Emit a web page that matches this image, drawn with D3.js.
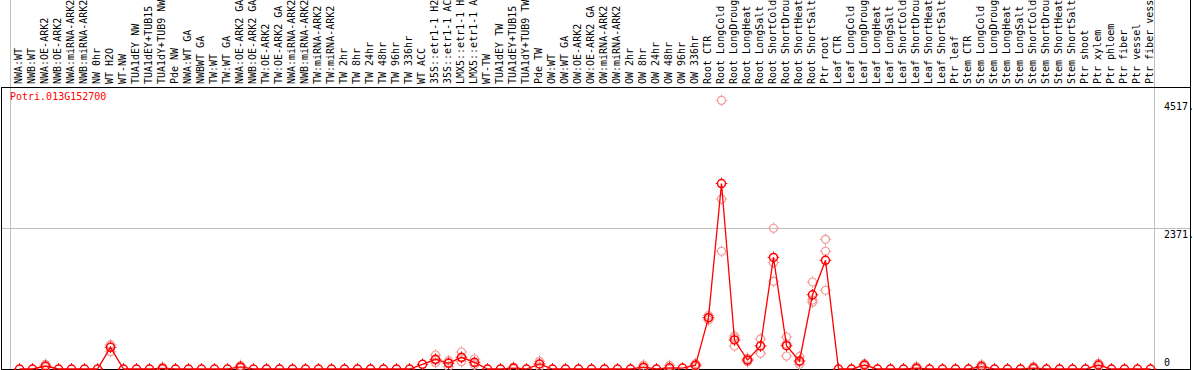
<!DOCTYPE html>
<html>
<head>
<meta charset="utf-8">
<script src="https://cdn.jsdelivr.net/npm/d3@7"></script>
<style>
  body { margin: 0; background: #fff; }
  svg { display: block; }
  text { font-family: "DejaVu Sans Mono", monospace; font-size: 10px; }
</style>
</head>
<body>
<div id="chart"></div>
<script>
const geneId = 'Potri.013G152700';

const labels = [
  'NWA:WT', 'NWB:WT', 'NWA:OE-ARK2', 'NWB:OE-ARK2', 'NWA:miRNA-ARK2', 'NWB:miRNA-ARK2', 'NW 0hr', 'WT H2O', 'WT-NW',
  'TUA1dEY NW', 'TUA1dEY+TUB15', 'TUA1dY+TUB9 NW', 'Pde NW',
  'NWA:WT GA', 'NWBWT GA', 'TW:WT', 'TW:WT GA', 'NWA:OE-ARK2 GA', 'NWB:OE-ARK2 GA', 'TW:OE-ARK2', 'TW:OE-ARK2 GA',
  'NWA:miRNA-ARK2', 'NWB:miRNA-ARK2', 'TW:miRNA-ARK2', 'TW:miRNA-ARK2', 'TW 2hr', 'TW 8hr', 'TW 24hr', 'TW 48hr',
  'TW 96hr', 'TW 336hr', 'WT ACC', '35S::etr1-1 H2O', '35S::etr1-1 ACC', 'LMX5::etr1-1 H2O', 'LMX5::etr1-1 ACC',
  'WT-TW', 'TUA1dEY TW', 'TUA1dEY+TUB15', 'TUA1dY+TUB9 TW', 'Pde TW',
  'OW:WT', 'OW:WT GA', 'OW:OE-ARK2', 'OW:OE-ARK2 GA', 'OW:miRNA-ARK2', 'OW:miRNA-ARK2', 'OW 2hr', 'OW 8hr',
  'OW 24hr', 'OW 48hr', 'OW 96hr', 'OW 336hr',
  'Root CTR', 'Root LongCold', 'Root LongDrought', 'Root LongHeat', 'Root LongSalt', 'Root ShortCold',
  'Root ShortDrought', 'Root ShortHeat', 'Root ShortSalt', 'Ptr root',
  'Leaf CTR', 'Leaf LongCold', 'Leaf LongDrought', 'Leaf LongHeat', 'Leaf LongSalt', 'Leaf ShortCold',
  'Leaf ShortDrought', 'Leaf ShortHeat', 'Leaf ShortSalt', 'Ptr leaf',
  'Stem CTR', 'Stem LongCold', 'Stem LongDrought', 'Stem LongHeat', 'Stem LongSalt', 'Stem ShortCold',
  'Stem ShortDrought', 'Stem ShortHeat', 'Stem ShortSalt', 'Ptr shoot', 'Ptr xylem',
  'Ptr phloem', 'Ptr fiber', 'Ptr vessel', 'Ptr fiber vessel'
];

// mean expression per sample
const values = [
  0, 0, 50, 0, 0, 0, 0, 365, 0, 0, 0, 10, 0,
  0, 0, 0, 0, 35, 0, 0, 0, 0, 0, 0, 0, 0, 0, 0, 0, 0, 0, 79, 163, 96, 197, 112, 0, 0, 15, 0, 84,
  0, 0, 0, 0, 0, 0, 0, 30, 0, 20, 15, 65,
  863, 3119, 488, 151, 387, 1877, 392, 135, 1248, 1828,
  0, 0, 67, 0, 0, 0, 13, 0, 0, 0,
  0, 40, 0, 0, 0, 15, 0, 0, 0, 0, 67,
  0, 0, 0, 0
];

// replicate values (pale markers), by sample index
const repIndex = [2, 7, 11, 17, 32, 33, 34, 35, 38, 40, 48, 50, 52,
  53, 54, 55, 56, 57, 58, 59, 60, 61, 62, 65, 69, 74, 78, 83];
const repValues = [
  [80, 40, 30], [404, 400, 291], [30, 0, 0], [60, 30, 15], [235, 148, 106], [140, 109, 39], [286, 183, 123],
  [168, 100, 68], [30, 15, 0], [129, 84, 40], [67, 20, 5], [60, 0, 0], [90, 65, 40],
  [900, 863, 826], [4517, 2859, 1980], [555, 522, 387], [180, 151, 122], [505, 392, 264], [2367, 1788, 1475],
  [538, 419, 219], [207, 119, 79], [1463, 1122, 1160], [2181, 1980, 1324],
  [90, 67, 44], [40, 0, 0], [70, 40, 10], [40, 5, 0], [96, 67, 38]
];

const groupSizes = [13, 28, 12, 10, 10, 11, 1, 1, 1, 1];

const tickValues = [0, 2371, 4517];
const tickLabels = ['0', '2371.', '4517.'];
const yMax = 4742;

const width = 1194, height = 370;
const plot = { left: 1, right: 1190, top: 87, bottom: 369 };

const svg = d3.select('#chart')
  .append('svg')
  .attr('width', width)
  .attr('height', height);

const x = d3.scaleBand()
  .domain(d3.range(labels.length))
  .range([10, 10 + 13 * labels.length]);

const px = i => x(i) + 9.5;

const y = d3.scaleLinear()
  .domain([0, yMax])
  .range([plot.bottom, plot.top]);

svg.append('defs').append('clipPath')
  .attr('id', 'plotClip')
  .append('rect')
  .attr('x', plot.left)
  .attr('y', plot.top)
  .attr('width', plot.right - plot.left)
  .attr('height', plot.bottom - plot.top + 1);

// group separators
const bounds = [0].concat(d3.cumsum(groupSizes));
svg.append('g')
  .selectAll('line')
  .data(bounds)
  .join('line')
  .attr('x1', d => Math.round(d < labels.length ? x(d) : x.range()[1]) + 0.5)
  .attr('x2', d => Math.round(d < labels.length ? x(d) : x.range()[1]) + 0.5)
  .attr('y1', 0)
  .attr('y2', plot.bottom)
  .attr('stroke', '#c0c0c0')
  .attr('stroke-width', 1);

// mid gridline
svg.append('line')
  .attr('x1', plot.left).attr('x2', plot.right)
  .attr('y1', Math.round(y(tickValues[1])) + 0.5)
  .attr('y2', Math.round(y(tickValues[1])) + 0.5)
  .attr('stroke', '#c0c0c0');

// frame
const frame = svg.append('g').attr('stroke', '#000').attr('stroke-width', 1).attr('fill', 'none');
frame.append('line').attr('x1', plot.left).attr('x2', plot.right).attr('y1', plot.top + 0.5).attr('y2', plot.top + 0.5);
frame.append('line').attr('x1', plot.left).attr('x2', plot.right).attr('y1', plot.bottom + 0.5).attr('y2', plot.bottom + 0.5);
frame.append('line').attr('x1', plot.left + 0.5).attr('x2', plot.left + 0.5).attr('y1', plot.top).attr('y2', plot.bottom + 1);
frame.append('line').attr('x1', plot.right + 0.5).attr('x2', plot.right + 0.5).attr('y1', 0).attr('y2', plot.bottom + 1);

// sample labels
svg.append('g')
  .selectAll('text')
  .data(labels)
  .join('text')
  .attr('transform', (d, i) => 'translate(' + (x(i) + 12) + ',84) rotate(-90)')
  .attr('fill', '#000')
  .text(d => d);

// tick labels
svg.append('g')
  .selectAll('text')
  .data(tickValues)
  .join('text')
  .attr('x', 1164)
  .attr('y', d => d === 0 ? y(d) - 3 : y(d) + 10)
  .attr('fill', '#000')
  .text((d, i) => tickLabels[i]);

svg.append('text')
  .attr('x', 10)
  .attr('y', 100)
  .attr('fill', '#ff0000')
  .text(geneId);

const data = svg.append('g').attr('clip-path', 'url(#plotClip)');

function marker(sel, color, sw) {
  sel.append('circle')
    .attr('r', 4)
    .attr('fill', 'none')
    .attr('stroke', color)
    .attr('stroke-width', sw);
  sel.selectAll('line.tick')
    .data([[0, -1], [0, 1], [-1, 0], [1, 0]])
    .join('line')
    .attr('class', 'tick')
    .attr('x1', d => d[0] * 4)
    .attr('y1', d => d[1] * 4)
    .attr('x2', d => d[0] * 5.8)
    .attr('y2', d => d[1] * 5.8)
    .attr('stroke', color)
    .attr('stroke-width', 1);
}

// replicate markers
const reps = [];
repIndex.forEach((idx, k) => repValues[k].forEach(v => reps.push({ i: idx, v: v })));
data.append('g')
  .selectAll('g')
  .data(reps)
  .join('g')
  .attr('transform', d => 'translate(' + px(d.i) + ',' + y(d.v) + ')')
  .each(function () { marker(d3.select(this), '#f29a9a', 1.2); });

// mean line
const line = d3.line()
  .x((d, i) => px(i))
  .y(d => y(d));

data.append('path')
  .datum(values)
  .attr('fill', 'none')
  .attr('stroke', '#ff0000')
  .attr('stroke-width', 1.3)
  .attr('d', line);

// mean markers
data.append('g')
  .selectAll('g')
  .data(values)
  .join('g')
  .attr('transform', (d, i) => 'translate(' + px(i) + ',' + y(d) + ')')
  .each(function () { marker(d3.select(this), '#ff0000', 1.5); });
</script>
</body>
</html>
